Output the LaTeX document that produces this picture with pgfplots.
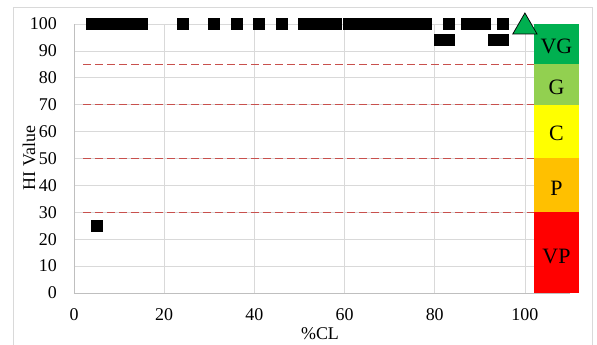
\documentclass[border=0pt]{standalone}
\usepackage{fontspec}
\setmainfont{Liberation Serif}
\usepackage{pgfplots}
\pgfplotsset{compat=1.18}
\definecolor{gridc}{HTML}{D9D9D9}
\definecolor{axisc}{HTML}{BFBFBF}
\definecolor{dashc}{HTML}{C8504D}
\definecolor{vgc}{HTML}{00B050}
\definecolor{gc}{HTML}{92D050}
\definecolor{cc}{HTML}{FFFF00}
\definecolor{pc}{HTML}{FFC000}
\definecolor{vpc}{HTML}{FF0000}
\begin{document}
\begin{tikzpicture}
\useasboundingbox (-74bp,-52bp) rectangle (523bp,293bp);
\draw[gridc, line width=0.75bp] (-61bp,-60bp) -- (-61bp,286bp) -- (518bp,286bp) -- (518bp,-60bp);
\begin{axis}[
  at={(0,0)}, anchor=south west,
  scale only axis, width=496bp, height=269bp,
  xmin=0, xmax=110, ymin=0, ymax=100,
  xtick={0,20,...,100}, ytick={0,10,...,100},
  grid=major, major grid style={gridc, line width=0.75bp},
  axis x line*=bottom, axis y line*=left,
  axis line style={draw=axisc, line width=0.75bp, -},
  major tick length=0pt, tick style={draw=none},
  clip=false,
  every tick label/.append style={font=\fontsize{18}{20}\selectfont, inner sep=0pt, text=black},
  xticklabel style={anchor=north, yshift=-15bp},
  yticklabel style={anchor=east, xshift=-17bp},
  /pgf/number format/assume math mode=true,
]
% category boundaries
\addplot[draw=dashc, dash pattern=on 8bp off 4bp, line width=1bp] coordinates {(2,30) (110,30)};
\addplot[draw=dashc, dash pattern=on 8bp off 4bp, line width=1bp] coordinates {(2,50) (110,50)};
\addplot[draw=dashc, dash pattern=on 8bp off 4bp, line width=1bp] coordinates {(2,70) (110,70)};
\addplot[draw=dashc, dash pattern=on 8bp off 4bp, line width=1bp] coordinates {(2,85) (110,85)};
% class bands
\addplot[fill=vpc, draw=none] coordinates {(102,0) (112,0) (112,30) (102,30)} -- cycle;
\addplot[fill=pc, draw=none] coordinates {(102,30) (112,30) (112,50) (102,50)} -- cycle;
\addplot[fill=cc, draw=none] coordinates {(102,50) (112,50) (112,70) (102,70)} -- cycle;
\addplot[fill=gc, draw=none] coordinates {(102,70) (112,70) (112,85) (102,85)} -- cycle;
\addplot[fill=vgc, draw=none] coordinates {(102,85) (112,85) (112,100) (102,100)} -- cycle;
\node[font=\fontsize{22}{24}\selectfont] at (axis cs:107,91.5) {VG};
\node[font=\fontsize{22}{24}\selectfont] at (axis cs:107,76.6) {G};
\node[font=\fontsize{22}{24}\selectfont] at (axis cs:107,59.5) {C};
\node[font=\fontsize{22}{24}\selectfont] at (axis cs:107,39) {P};
\node[font=\fontsize{22}{24}\selectfont] at (axis cs:107,13.4) {VP};
% data
\addplot[only marks, mark=square*, mark size=5.5bp, black] coordinates {
(4,100)(5,100)(6,100)(7,100)(8,100)(9,100)(10,100)(11,100)(12,100)(13,100)(15,100)
(24,100)(31,100)(36,100)(41,100)(46,100)
(51,100)(52,100)(53,100)(54,100)(55,100)(56,100)(57,100)(58,100)
(61,100)(62,100)(63,100)(64,100)(65,100)(66,100)(67,100)(68,100)(69,100)(70,100)
(71,100)(72,100)(73,100)(74,100)(75,100)(76,100)(77,100)(78,100)
(83,100)(87,100)(88,100)(89,100)(90,100)(91,100)(95,100)
(81,94)(82,94)(83,94)(93,94)(94,94)(95,94)
(5,25)
};
\addplot[only marks, mark=triangle*, mark size=14bp, mark options={fill=vgc, draw=black, line width=0.75bp, yshift=-3bp}] coordinates {(100,100)};
\end{axis}
\node[rotate=90, font=\fontsize{18}{20}\selectfont] at (-45bp,135bp) {HI Value};
\node[font=\fontsize{18}{20}\selectfont] at (246bp,-40.5bp) {\%CL};
\end{tikzpicture}
\end{document}
